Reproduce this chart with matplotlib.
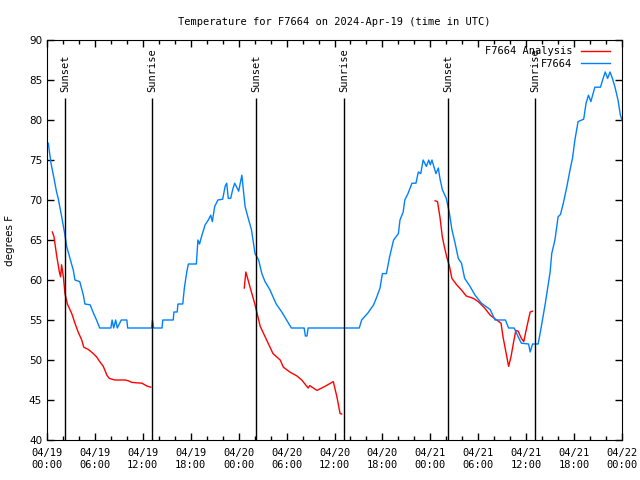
import matplotlib
matplotlib.use("Agg")
import matplotlib.pyplot as plt
import matplotlib.dates as mdates
import numpy as np
import pandas as pd

start = pd.Timestamp("2024-04-19 00:00")

# F7664 observations (hours after start, degrees F)
blue_hours = [0.16, 0.5, 0.8, 1.2, 1.4, 1.84, 2.25, 2.46, 2.88, 3.3, 3.5, 4.1, 4.55, 4.75,
              5.4, 5.8, 6.2, 6.6, 8.0, 8.15, 8.35, 8.6, 8.8, 9.3, 10.0, 10.1, 13.1, 13.2,
              13.35, 14.4, 14.5, 15.8, 15.9, 16.3, 16.4, 17.0, 17.2, 17.5, 17.7, 18.7, 18.9,
              19.1, 19.4, 19.8, 20.2, 20.5, 20.7, 21.0, 21.4, 22.0, 22.3, 22.5, 22.7, 23.0,
              23.25, 23.5, 23.8, 24.0, 24.4, 24.8, 25.2, 25.6, 26.05, 26.5, 26.9, 27.3, 27.9,
              28.3, 28.7, 29.4, 30.0, 30.6, 32.2, 32.35, 32.55, 32.7, 39.1, 39.4, 40.2, 40.9,
              41.3, 41.7, 42.0, 42.5, 42.9, 43.4, 44.0, 44.2, 44.6, 44.8, 45.2, 45.7, 46.2,
              46.5, 46.8, 47.1, 47.5, 47.8, 48.0, 48.2, 48.7, 49.0, 49.2, 49.5, 50.0, 50.4,
              50.7, 51.1, 51.5, 51.9, 52.3, 52.97, 53.6, 54.4, 55.5, 56.1, 57.4, 57.8, 58.5,
              59.0, 59.4, 60.3, 60.5, 60.8, 61.5, 61.9, 62.4, 63.0, 63.2, 63.6, 64.0, 64.3,
              64.65, 65.1, 65.5, 65.8, 66.1, 66.5, 67.2, 67.5, 67.8, 68.1, 68.6, 69.3, 69.7,
              69.9, 70.2, 70.5, 70.8, 71.1, 71.5, 71.8, 72.0]
blue_temps = [77.1, 74.6, 73.1, 71.0, 70.2, 67.9, 65.6, 64.2, 62.7, 61.2, 60.0, 59.8, 58.1, 57.0,
              56.9, 55.9, 55.0, 54.0, 54, 55, 54, 55, 54, 55, 55, 54, 54, 55,
              54, 54, 55, 55, 56, 56, 57, 57, 59, 61, 62, 62, 65,
              64.5, 65.6, 66.9, 67.5, 68.1, 67.3, 69.2, 70.0, 70.1, 71.7, 72.1, 70.2, 70.2,
              71.3, 72.1, 71.5, 71.1, 73.1, 69.2, 67.7, 66.3, 63.3, 62.5, 60.8, 59.8, 58.8,
              57.9, 57.0, 56.0, 55.0, 54.0, 54, 53, 53, 54, 54, 55, 55.9, 56.9,
              57.9, 59.0, 60.8, 60.8, 62.9, 65.0, 65.8, 67.5, 68.5, 70.0, 70.8, 72.1, 72.1,
              73.5, 73.3, 75.0, 74.2, 75.0, 74.4, 75.0, 73.3, 74.0, 72.7, 71.3, 70.2, 68.3,
              66.3, 64.6, 62.7, 62.1, 60.2, 59.2, 58.1, 57.1, 56.3, 55.0, 55.0, 54.0, 54.0,
              52.9, 52.1, 52.0, 51.0, 52.0, 52.0, 54.2, 57.1, 61.0, 63.3, 65.0, 67.9, 68.2,
              69.6, 71.7, 73.8, 75.2, 77.5, 79.8, 80.1, 82.1, 83.1, 82.3, 84.1, 84.1, 85.4,
              86.0, 85.2, 86.0, 85.2, 84.2, 82.5, 80.6, 80.0]

# F7664 analysis, three separate runs
red1_hours = [0.67, 0.88, 1.2, 1.55, 1.7, 1.83, 2.05, 2.25, 2.55, 3.1, 3.5, 3.9, 4.35, 4.6,
              5.2, 5.8, 6.2, 6.6, 7.05, 7.5, 7.8, 8.5, 9.8, 10.2, 10.6, 11.9, 12.5, 13.0]
red1_temps = [66.0, 65.4, 63.1, 61.0, 60.4, 61.9, 60.4, 58.3, 57.0, 55.8, 54.6, 53.5, 52.5, 51.6,
              51.3, 50.8, 50.4, 49.8, 49.2, 48.1, 47.7, 47.5, 47.5, 47.4, 47.2, 47.1, 46.75, 46.6]
red2_hours = [24.7, 24.9, 25.4, 26.05, 26.7, 27.5, 28.3, 29.2, 29.6, 30.4, 31.3, 31.9, 32.7,
              32.9, 33.8, 34.8, 35.85, 36.3, 36.7, 36.9]
red2_temps = [59.0, 61.0, 59.2, 56.9, 54.2, 52.5, 50.8, 50.0, 49.1, 48.5, 48.0, 47.5, 46.5,
              46.8, 46.2, 46.7, 47.3, 45.4, 43.3, 43.25]
red3_hours = [48.6, 48.9, 49.2, 49.5, 49.75, 50.05, 50.4, 50.7, 51.3, 51.9, 52.5, 53.4, 54.0,
              54.8, 55.5, 56.3, 56.85, 57.1, 57.5, 57.8, 58.1, 58.4, 58.7, 59.0, 59.4, 59.7,
              60.0, 60.5, 60.8]
red3_temps = [69.9, 69.8, 67.9, 65.4, 64.2, 62.9, 61.7, 60.2, 59.4, 58.75, 58.0, 57.7, 57.3,
              56.5, 55.6, 55.0, 54.6, 52.9, 50.8, 49.2, 50.4, 52.1, 53.7, 53.6, 52.7, 52.3,
              53.75, 56.0, 56.1]

sun_hours = [2.25, 13.17, 26.2, 37.23, 50.25, 61.15]
sun_labels = ["Sunset", "Sunrise", "Sunset", "Sunrise", "Sunset", "Sunrise"]


def to_time(hours):
    return start + pd.to_timedelta(np.array(hours), unit="h")


mono = "DejaVu Sans Mono"

fig = plt.figure(figsize=(6.4, 4.8), dpi=100)
ax = fig.add_axes([47 / 640, 40 / 480, 575 / 640, 400 / 480])

red = "#ff0000"
blue = "#0080ff"
ax.plot(to_time(red1_hours), red1_temps, color=red, lw=1, label="F7664 Analysis")
ax.plot(to_time(red2_hours), red2_temps, color=red, lw=1)
ax.plot(to_time(red3_hours), red3_temps, color=red, lw=1)
ax.plot(to_time(blue_hours), blue_temps, color=blue, lw=1, label="F7664")

ax.vlines(to_time(sun_hours), 40, 82.7, color="black", lw=1)
for t, lab in zip(to_time(sun_hours), sun_labels):
    ax.text(t, 83.5, lab, rotation=90, ha="center", va="bottom",
            fontsize=7.5, family=mono)

ax.set_xlim(start, start + pd.Timedelta(hours=72))
ax.set_ylim(40, 90)
ax.set_yticks(np.arange(40, 91, 5))

ax.xaxis.set_major_locator(mdates.HourLocator(byhour=[0, 6, 12, 18]))
ax.xaxis.set_minor_locator(mdates.HourLocator(interval=2))
ax.xaxis.set_major_formatter(mdates.DateFormatter("%m/%d\n%H:%M"))

ax.tick_params(which="both", direction="in", top=True, right=True, width=1)
ax.tick_params(which="major", length=5)
ax.tick_params(which="minor", length=3)
ax.tick_params(axis="x", labelsize=7.5, pad=6)
ax.tick_params(axis="y", labelsize=7.5)
for lab in ax.get_xticklabels():
    lab.set_fontfamily(mono)

ax.set_ylabel("degrees F", fontsize=7.5)
ax.yaxis.set_label_coords(-0.056, 0.5)
ax.set_title("Temperature for F7664 on 2024-Apr-19 (time in UTC)",
             fontsize=7.5, family=mono, pad=11)

leg = ax.legend(loc="upper right", bbox_to_anchor=(1 - 6 / 575, 1.0),
                frameon=False, markerfirst=False,
                prop={"family": mono, "size": 7.5}, handlelength=2.8,
                borderaxespad=0.2, labelspacing=0.25)

fig.savefig("out.png", dpi=100)
